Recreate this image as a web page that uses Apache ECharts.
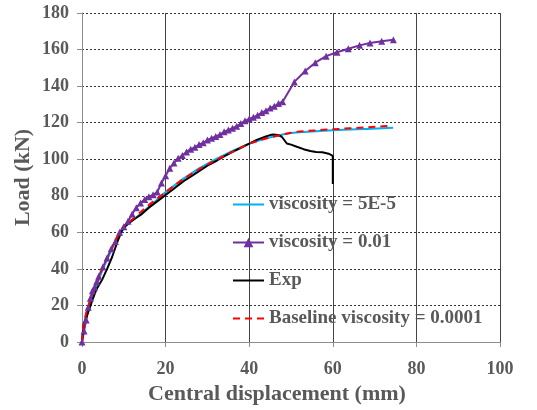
<!DOCTYPE html>
<html lang="en">
<head>
    <meta charset="UTF-8">
    <title>Load vs central displacement</title>
    <style>
        body { margin: 0; background: #fff; }
        #chart { width: 537px; height: 410px; }
    </style>
    <script src="https://cdn.jsdelivr.net/npm/echarts@6/dist/echarts.min.js"></script>
</head>
<body>
<div id="chart"></div>
<script>
    // viscosity = 5E-5 (cyan)
    var visc5eX = [0, 0.3, 1, 2, 3, 4, 5, 6, 7, 8, 9, 10, 11, 12, 14, 16, 18, 20, 24, 28, 32, 36, 40, 44, 48, 50, 52, 56, 60, 64, 68, 72, 74.4];
    var visc5eY = [0, 8, 15, 22, 28, 34, 40, 45, 50, 55, 59, 62, 64.5, 66.5, 70, 74, 78, 82, 89, 95, 100, 104.5, 108.5, 111.5, 113.5, 114.3, 114.8, 115.3, 115.8, 116.2, 116.6, 117, 117.2];

    // viscosity = 0.01 (purple, triangles)
    var visc001X = [0, 0.5, 1, 1.5, 2, 2.5, 3, 3.5, 4, 5, 6, 7, 8, 9, 10, 11, 12, 13, 14, 15, 16, 17, 18, 19, 20, 21, 22, 23, 24, 25, 26, 27, 28, 29, 30, 31, 32, 33, 34, 35, 36, 37, 38, 39, 40, 41, 42, 43, 44, 45, 46, 47, 48, 50.8, 53.4, 55.8, 58.4, 61, 63.7, 66.4, 68.9, 71.7, 74.5];
    var visc001Y = [0, 6, 12, 19, 24, 28, 30, 33, 36, 41, 46, 51, 55, 60, 63, 66, 70, 73.5, 76, 78, 79.5, 80.5, 82, 87, 91, 95, 98, 100.5, 102, 104, 105.5, 106.5, 108, 109, 110.5, 111.5, 112.5, 113.5, 115, 116, 117, 118, 119.5, 121, 122, 123, 124, 125.5, 126.5, 128, 129, 130.5, 131.5, 142.3, 148.3, 152.8, 156.4, 158.5, 160.4, 162.3, 163.6, 164.5, 165.4];

    // Exp (black)
    var expX = [0, 0.2, 0.4, 1, 1.6, 2.5, 3.5, 4.8, 6, 7.2, 8.5, 9.9, 11.5, 13, 14.3, 16, 18.3, 20, 21.5, 24.3, 26, 28, 30, 32.3, 34, 36, 37.8, 40, 41.8, 44, 45, 45.8, 46.8, 47.8, 49, 50, 51.4, 53, 54.6, 56, 57.5, 59, 60, 60];
    var expY = [0, 5, 10, 13, 17, 23, 29, 34, 40, 46.5, 55, 62.7, 65.6, 68, 70, 73.5, 77.5, 80.5, 83, 88, 90.5, 93.5, 96.5, 99.3, 101.5, 104, 106, 108.5, 110.6, 112.5, 113.2, 113.5, 113.3, 112.3, 108.6, 108, 106.8, 105.5, 104.5, 104, 103.8, 103, 101.8, 86.5];

    // Baseline viscosity = 0.0001 (red dashed)
    var baseX = [0, 0.3, 1, 2, 3, 4, 5, 6, 7, 8, 9, 10, 12, 14, 16, 18, 20, 24, 28, 32, 36, 40, 44, 48, 50, 52, 56, 60, 64, 68, 72, 73.9];
    var baseY = [0, 8, 16, 23, 29, 35, 41, 46, 51, 56, 60, 63.5, 67, 71, 75, 78.5, 82, 88.8, 94.5, 99.6, 104, 108.6, 111.3, 113.5, 114.5, 115.2, 115.8, 116.4, 116.9, 117.4, 118, 118.2];

    var xTicks = [0, 20, 40, 60, 80, 100];
    var yTicks = [0, 20, 40, 60, 80, 100, 120, 140, 160, 180];

    function pairs(xs, ys) {
        return xs.map(function (x, i) { return [x, ys[i]]; });
    }

    var textGray = '#595959';
    var serif = "'Liberation Serif', 'Times New Roman', serif";
    var noDot = { opacity: 0 };

    var chart = echarts.init(document.getElementById('chart'));
    chart.setOption({
        animation: false,
        backgroundColor: '#fff',
        grid: { left: 82, right: 37, top: 13, bottom: 64, containLabel: false },
        legend: {
            orient: 'vertical',
            left: 227,
            top: 190,
            itemWidth: 31,
            itemHeight: 12,
            itemGap: 19,
            textStyle: { color: textGray, fontFamily: serif, fontWeight: 'bold', fontSize: 19 },
            data: [
                { name: 'viscosity = 5E-5', itemStyle: noDot },
                { name: 'viscosity = 0.01' },
                { name: 'Exp', itemStyle: noDot },
                { name: 'Baseline viscosity = 0.0001', itemStyle: noDot }
            ]
        },
        xAxis: {
            type: 'value',
            min: xTicks[0],
            max: xTicks[xTicks.length - 1],
            interval: 20,
            name: 'Central displacement (mm)',
            nameLocation: 'middle',
            nameGap: 41,
            nameMoveOverlap: false,
            nameTextStyle: { color: textGray, fontFamily: serif, fontWeight: 'bold', fontSize: 22, padding: [0, 28, 0, 0] },
            axisLine: { lineStyle: { color: '#8c8c8c', width: 1 } },
            axisTick: { show: true, length: 5, lineStyle: { color: '#8c8c8c' } },
            axisLabel: { color: textGray, fontFamily: serif, fontWeight: 'bold', fontSize: 18, margin: 18 },
            splitLine: { show: true, lineStyle: { color: '#444', width: 1, type: 'solid' } }
        },
        yAxis: {
            type: 'value',
            min: yTicks[0],
            max: yTicks[yTicks.length - 1],
            interval: 20,
            name: 'Load (kN)',
            nameLocation: 'middle',
            nameGap: 48,
            nameMoveOverlap: false,
            nameTextStyle: { color: textGray, fontFamily: serif, fontWeight: 'bold', fontSize: 22 },
            axisLine: { show: true, lineStyle: { color: '#8c8c8c', width: 1 } },
            axisTick: { show: true, length: 5, lineStyle: { color: '#8c8c8c' } },
            axisLabel: { color: textGray, fontFamily: serif, fontWeight: 'bold', fontSize: 18, margin: 13 },
            splitLine: { show: true, lineStyle: { color: '#333', width: 1, type: [2, 2] } }
        },
        series: [
            {
                name: 'viscosity = 5E-5',
                type: 'line',
                data: pairs(visc5eX, visc5eY),
                symbol: 'none',
                lineStyle: { color: '#00B0F0', width: 2 },
                itemStyle: { color: '#00B0F0' }
            },
            {
                name: 'viscosity = 0.01',
                type: 'line',
                data: pairs(visc001X, visc001Y),
                symbol: 'triangle',
                symbolSize: 7,
                lineStyle: { color: '#7030A0', width: 2 },
                itemStyle: { color: '#7030A0' }
            },
            {
                name: 'Exp',
                type: 'line',
                data: pairs(expX, expY),
                symbol: 'none',
                lineStyle: { color: '#000', width: 2 },
                itemStyle: { color: '#000' }
            },
            {
                name: 'Baseline viscosity = 0.0001',
                type: 'line',
                data: pairs(baseX, baseY),
                symbol: 'none',
                lineStyle: { color: '#FF0000', width: 2, type: [7, 5] },
                itemStyle: { color: '#FF0000' }
            }
        ]
    });
</script>
</body>
</html>
